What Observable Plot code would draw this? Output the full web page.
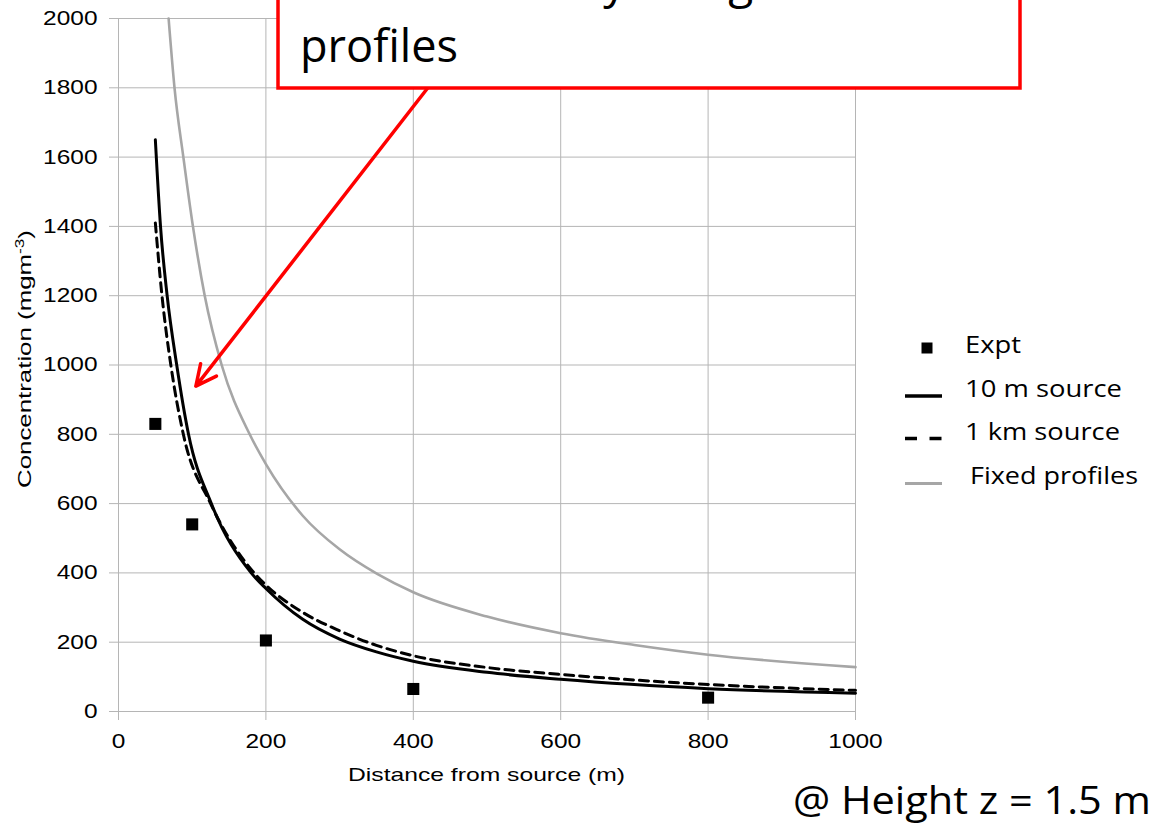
<!DOCTYPE html>
<html><head><meta charset="utf-8">
<script src="https://cdn.jsdelivr.net/npm/d3@7"></script>
<script src="https://cdn.jsdelivr.net/npm/@observablehq/plot@0.6"></script>
<style>
html,body{margin:0;padding:0;background:#fff;overflow:hidden}
#wrap{position:relative;width:1153px;height:829px;overflow:hidden;background:#fff}
#wrap > svg{position:absolute;left:0;top:0}
</style></head><body><div id="wrap"></div>
<script>
// ---- data ----
const xTicks = [0, 200, 400, 600, 800, 1000];
const yTicks = [0, 200, 400, 600, 800, 1000, 1200, 1400, 1600, 1800, 2000];

const exptX = [50, 100, 200, 400, 800];
const exptY = [830, 540, 205, 65, 40];

const src10X = [50, 57, 66, 79, 95, 126, 180, 200, 250, 300, 350, 400, 500, 600, 800, 1000];
const src10Y = [1650, 1400, 1200, 1000, 800, 600, 400, 355, 266, 209, 172, 145, 113, 93, 66, 53];

const src1kX = [50, 59, 71, 88, 125, 180, 200, 250, 300, 350, 400, 500, 600, 800, 1000];
const src1kY = [1410, 1200, 1000, 800, 600, 410, 365, 286, 233, 191, 161, 127, 107, 78, 61];

const fixedX = [68, 76, 88, 101, 117, 140, 178, 200, 250, 300, 351, 400, 500, 600, 700, 800, 1000];
const fixedY = [2000, 1800, 1600, 1400, 1200, 1000, 800, 714, 565, 468, 397, 344, 274, 226, 192, 164, 128];

const legendLabels = ["Expt", "10 m source", "1 km source", "Fixed profiles"];
const calloutLines = ["Much better by using realistic", "profiles"];
const xLabel = "Distance from source (m)";
const yLabelMain = "Concentration (mgm";
const yLabelSup = "-3";
const caption = "@ Height z = 1.5 m";

// annotation arrow (data units)
const arrowFrom = {x: 419, y: 1798};
const arrowTo = {x: 105, y: 939};

// ---- tables ----
const expt = exptX.map((x, i) => ({x, y: exptY[i]}));
const s10 = src10X.map((x, i) => ({x, y: src10Y[i]}));
const s1k = src1kX.map((x, i) => ({x, y: src1kY[i]}));
const fixed = fixedX.map((x, i) => ({x, y: fixedY[i]}));

const W = 1153, H = 829;
const plot = Plot.plot({
  width: W, height: H,
  marginLeft: 118, marginRight: 298, marginTop: 18, marginBottom: 118,
  style: {background: "transparent", color: "#000", fontFamily: "'Liberation Sans', Arial, sans-serif", fontSize: "20px", overflow: "visible"},
  x: {domain: [0, 1000], ticks: xTicks, tickSize: 9, tickPadding: 13, tickFormat: d => String(d), label: null},
  y: {domain: [0, 2000], ticks: yTicks, tickSize: 9, tickPadding: 12, tickFormat: d => String(d), label: null},
  marks: [
    Plot.ruleY(yTicks, {stroke: "#b5b5b5", strokeWidth: 1}),
    Plot.ruleX(xTicks, {stroke: "#b5b5b5", strokeWidth: 1}),
    Plot.line(fixed, {x: "x", y: "y", stroke: "#a6a6a6", strokeWidth: 2.6, curve: "monotone-x"}),
    Plot.line(s1k, {x: "x", y: "y", stroke: "#000", strokeWidth: 3, strokeDasharray: "9,6", curve: "monotone-x"}),
    Plot.line(s10, {x: "x", y: "y", stroke: "#000", strokeWidth: 3, curve: "monotone-x"}),
    Plot.dot(expt, {x: "x", y: "y", symbol: "square", r: 6.8, fill: "#000", stroke: "none"}),
    Plot.arrow([{x1: arrowFrom.x, y1: arrowFrom.y, x2: arrowTo.x, y2: arrowTo.y}],
      {x1: "x1", y1: "y1", x2: "x2", y2: "y2", stroke: "#ff0000", strokeWidth: 3.5, headLength: 9.8, headAngle: 52, bend: 0})
  ]
});
const wrap = document.getElementById("wrap");
wrap.appendChild(plot);

// tick styling
const ps = d3.select(plot);
ps.selectAll('g[aria-label^="x-axis"] path, g[aria-label^="x-axis"] line, g[aria-label^="y-axis"] path, g[aria-label^="y-axis"] line')
  .attr("stroke", "#b5b5b5");
ps.selectAll('g[aria-label^="x-axis"] text, g[aria-label^="y-axis"] text').each(function () {
  const s = this.textContent;
  this.setAttribute("textLength", s.length * 13.6);
  this.setAttribute("lengthAdjust", "spacingAndGlyphs");
  this.setAttribute("fill", "#000");
});

// ---- overlay: callout, legend, labels ----
const ov = d3.select(wrap).append("svg").attr("width", W).attr("height", H)
  .style("overflow", "hidden");
const sans = "'Open Sans', 'Noto Sans', sans-serif";

// callout box
ov.append("rect").attr("x", 278).attr("y", -80).attr("width", 742).attr("height", 168)
  .attr("fill", "#fff").attr("stroke", "#ff0000").attr("stroke-width", 3.5);
ov.append("text").attr("x", 300).attr("y", -2).attr("font-family", sans).attr("font-size", 46)
  .attr("fill", "#000").text(calloutLines[0]);
ov.append("text").attr("x", 300).attr("y", 62).attr("font-family", sans).attr("font-size", 46)
  .attr("fill", "#000").attr("textLength", 158).attr("lengthAdjust", "spacingAndGlyphs").text(calloutLines[1]);

// legend
const legX = 965;
const legY = [353, 397, 440, 484];
const legW = [56, 157, 155, 168];
const legDx = [0, 0, 0, 5];
legendLabels.forEach((t, i) => {
  ov.append("text").attr("x", legX + legDx[i]).attr("y", legY[i]).attr("font-family", sans)
    .attr("font-size", 24).attr("fill", "#000")
    .attr("textLength", legW[i]).attr("lengthAdjust", "spacingAndGlyphs").text(t);
});
ov.append("rect").attr("x", 921.5).attr("y", 342.5).attr("width", 11).attr("height", 11).attr("fill", "#000");
ov.append("line").attr("x1", 905).attr("x2", 942).attr("y1", 396).attr("y2", 396).attr("stroke", "#000").attr("stroke-width", 3.5);
ov.append("line").attr("x1", 905).attr("x2", 942).attr("y1", 438.5).attr("y2", 438.5).attr("stroke", "#000").attr("stroke-width", 3.5).attr("stroke-dasharray", "12,12.5");
ov.append("line").attr("x1", 905).attr("x2", 942).attr("y1", 483.5).attr("y2", 483.5).attr("stroke", "#a6a6a6").attr("stroke-width", 3);

// axis titles
ov.append("text").attr("x", 486.5).attr("y", 781).attr("text-anchor", "middle")
  .attr("font-family", "'Liberation Sans', Arial, sans-serif").attr("font-size", 19).attr("fill", "#000")
  .attr("textLength", 277).attr("lengthAdjust", "spacingAndGlyphs").text(xLabel);
const yl = ov.append("text").attr("transform", "translate(31,359) rotate(-90)").attr("text-anchor", "middle")
  .attr("font-family", "'Liberation Sans', Arial, sans-serif").attr("font-size", 18).attr("fill", "#000")
  .attr("textLength", 258).attr("lengthAdjust", "spacingAndGlyphs");
yl.append("tspan").text(yLabelMain);
yl.append("tspan").attr("font-size", 12).attr("dy", -7).text(yLabelSup);
yl.append("tspan").attr("dy", 7).text(")");

// caption
ov.append("text").attr("x", 793).attr("y", 814).attr("font-family", sans).attr("font-size", 38)
  .attr("fill", "#000").attr("textLength", 358).attr("lengthAdjust", "spacingAndGlyphs").text(caption);
</script>
</body></html>
